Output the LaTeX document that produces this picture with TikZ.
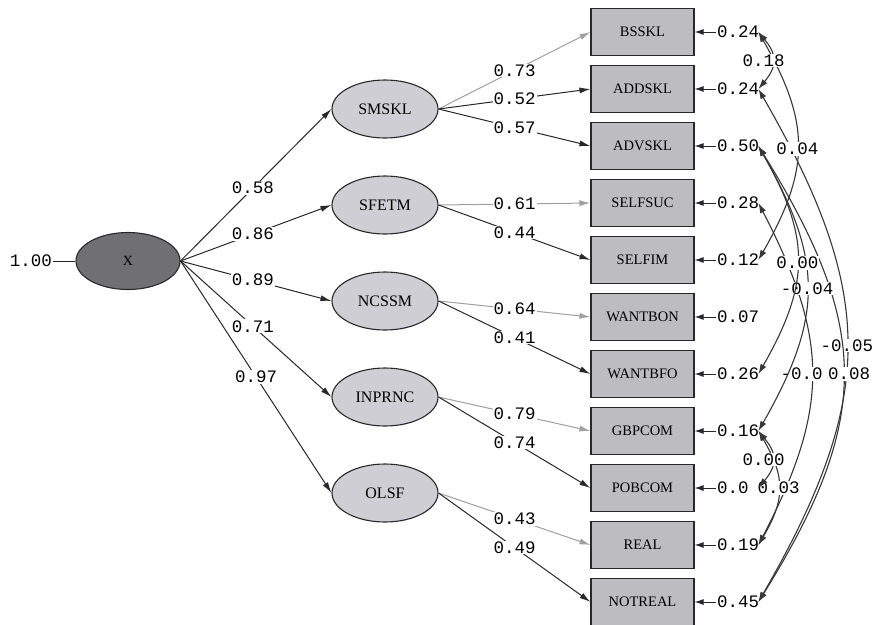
\documentclass[tikz,border=0pt]{standalone}
\usepackage{fontspec}
\setmainfont{Liberation Serif}
\newfontfamily\monof{Liberation Mono}
\usetikzlibrary{arrows.meta,shapes.geometric}
\definecolor{ellfill}{RGB}{206,206,212}
\definecolor{boxfill}{RGB}{188,188,193}
\definecolor{exofill}{RGB}{112,112,114}
\definecolor{linec}{RGB}{40,40,40}
\definecolor{refc}{RGB}{160,160,160}
\definecolor{covc}{RGB}{55,55,55}
\begin{document}
\begin{tikzpicture}[x=1pt,y=-1pt,
  lat/.style={ellipse, draw=linec, fill=ellfill, line width=1.1pt, minimum width=106pt, minimum height=58pt, inner sep=0pt, font=\fontsize{16}{17}\selectfont},
  exo/.style={lat, fill=exofill, minimum width=104pt, minimum height=57pt, font=\fontsize{14}{15}\selectfont},
  obs/.style={rectangle, draw=linec, fill=boxfill, line width=1.1pt, minimum width=103pt, minimum height=47pt, inner sep=0pt, font=\fontsize{14.5}{15}\selectfont},
  num/.style={font=\monof\fontsize{17.5}{18}\selectfont, inner sep=1pt, fill=white},
  errlab/.style={num, anchor=west, text width=40pt, align=left},
  struct/.style={draw=linec, line width=1pt, -{Latex[length=11pt,width=6pt]}},
  refload/.style={struct, draw=refc},
  errarr/.style={draw=linec, line width=1pt, -{Latex[length=9pt,width=6pt]}},
  covar/.style={draw=covc, line width=1.1pt, {Latex[length=10pt,width=6.5pt]}-{Latex[length=10pt,width=6.5pt]}}
]
\useasboundingbox (0,0) rectangle (877,624);
\fill[white] (0,0) rectangle (877,624);

% exogenous latent
\node[exo] (X) at (128,261) {X};
\node[num] (var) at (31,261) {1.00};
\draw[draw=linec, line width=0.8pt] (var) -- (X.west);

% latent factors
\node[lat] (SMSKL)  at (385,109) {SMSKL};
\node[lat] (SFETM)  at (385,205) {SFETM};
\node[lat] (NCSSM)  at (385,301) {NCSSM};
\node[lat] (INPRNC) at (385,397) {INPRNC};
\node[lat] (OLSF)   at (385,493) {OLSF};

% observed variables
\node[obs] (b1)  at (642.5,32)  {BSSKL};
\node[obs] (b2)  at (642.5,89)  {ADDSKL};
\node[obs] (b3)  at (642.5,146) {ADVSKL};
\node[obs] (b4)  at (642.5,203) {SELFSUC};
\node[obs] (b5)  at (642.5,260) {SELFIM};
\node[obs] (b6)  at (642.5,317) {WANTBON};
\node[obs] (b7)  at (642.5,374) {WANTBFO};
\node[obs] (b8)  at (642.5,431) {GBPCOM};
\node[obs] (b9)  at (642.5,488) {POBCOM};
\node[obs] (b10) at (642.5,545) {REAL};
\node[obs] (b11) at (642.5,602) {NOTREAL};

% structural paths
\draw[struct] (X.east) -- node[num,pos=0.48]{0.58} (SMSKL.west);
\draw[struct] (X.east) -- node[num,pos=0.48]{0.86} (SFETM.west);
\draw[struct] (X.east) -- node[num,pos=0.48]{0.89} (NCSSM.west);
\draw[struct] (X.east) -- node[num,pos=0.48]{0.71} (INPRNC.west);
\draw[struct] (X.east) -- node[num,pos=0.50]{0.97} (OLSF.west);

% loadings
\draw[refload] (SMSKL.east) -- node[num]{0.73} (b1.west);
\draw[struct]  (SMSKL.east) -- node[num]{0.52} (b2.west);
\draw[struct]  (SMSKL.east) -- node[num]{0.57} (b3.west);
\draw[refload] (SFETM.east) -- node[num]{0.61} (b4.west);
\draw[struct]  (SFETM.east) -- node[num]{0.44} (b5.west);
\draw[refload] (NCSSM.east) -- node[num]{0.64} (b6.west);
\draw[struct]  (NCSSM.east) -- node[num]{0.41} (b7.west);
\draw[refload] (INPRNC.east) -- node[num]{0.79} (b8.west);
\draw[struct]  (INPRNC.east) -- node[num]{0.74} (b9.west);
\draw[refload] (OLSF.east) -- node[num]{0.43} (b10.west);
\draw[struct]  (OLSF.east) -- node[num]{0.49} (b11.west);

% error variances
\node[errlab] (t1)  at (716,32)  {0.24};
\node[errlab] (t2)  at (716,89)  {0.24};
\node[errlab] (t3)  at (716,146) {0.50};
\node[errlab] (t4)  at (716,203) {0.28};
\node[errlab] (t5)  at (716,260) {0.12};
\node[errlab] (t6)  at (716,317) {0.07};
\node[errlab] (t7)  at (716,374) {0.26};
\node[errlab] (t8)  at (716,431) {0.16};
\node[errlab] (t9)  at (716,488) {0.0};
\node[errlab] (t10) at (716,545) {0.19};
\node[errlab] (t11) at (716,602) {0.45};
\foreach \i in {1,...,11}{\draw[errarr] (t\i.west) -- (b\i.east);}

% error covariances
\draw[covar] (t2.east) .. controls +(118,205) and +(118,-205) .. node[num]{-0.05} (t11.east);
\draw[covar] (t3.east) .. controls +(113,182) and +(113,-182) .. node[num,xshift=6pt]{0.08} (t11.east);
\draw[covar] (t4.east) .. controls +(71,137) and +(71,-137) .. node[num,xshift=-10pt]{-0.0} (t10.east);
\draw[covar] (t3.east) .. controls +(65,114) and +(65,-114) .. node[num]{-0.04} (t8.east);
\draw[covar] (t3.east) .. controls +(52,91) and +(52,-91) .. node[num,yshift=-3pt]{0.00} (t7.east);
\draw[covar] (t1.east) .. controls +(52,91) and +(52,-91) .. node[num,yshift=-3pt]{0.04} (t5.east);
\draw[covar] (t8.east) .. controls +(27,46) and +(27,-46) .. node[num]{0.03} (t10.east);
\draw[covar] (t1.east) .. controls +(19,23) and +(19,-23) .. node[num,xshift=-9pt]{0.18} (t2.east);
\draw[covar] (t8.east) .. controls +(19,23) and +(19,-23) .. node[num,xshift=-9pt]{0.00} (t9.east);
\end{tikzpicture}
\end{document}
